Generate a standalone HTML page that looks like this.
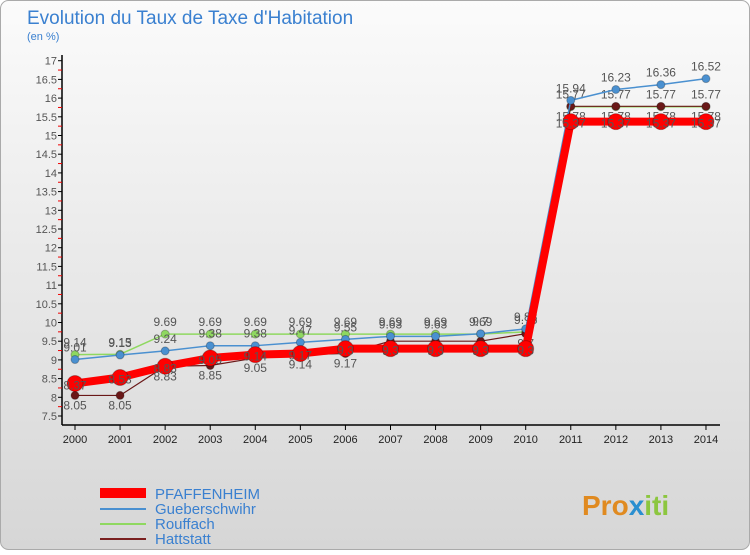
<!DOCTYPE html>
<html><head><meta charset="utf-8"><style>
body{margin:0;width:750px;height:550px;overflow:hidden;font-family:"Liberation Sans",sans-serif;}
</style></head><body>
<svg width="750" height="550" xmlns="http://www.w3.org/2000/svg" font-family="Liberation Sans, sans-serif">
<defs><linearGradient id="bg" x1="0" y1="0" x2="0" y2="1"><stop offset="0" stop-color="#fbfbfb"/><stop offset="1" stop-color="#d6d6d6"/></linearGradient></defs>
<rect x="0.5" y="0.5" width="749" height="549" rx="8" fill="url(#bg)" stroke="#aaa"/>
<text x="27" y="24" font-size="19" fill="#3a80d0">Evolution du Taux de Taxe d'Habitation</text>
<text x="27" y="40" font-size="11" fill="#3a80d0">(en %)</text>
<g id="axes"></g>
<g id="series"></g>
<g>
<rect x="100" y="488" width="46" height="10" fill="#f00"/><text x="155" y="499" font-size="15" fill="#3a80d0">PFAFFENHEIM</text>
<line x1="100" y1="509" x2="146" y2="509" stroke="#4a90d0" stroke-width="2"/><text x="155" y="514" font-size="15" fill="#3a80d0">Gueberschwihr</text>
<line x1="100" y1="524" x2="146" y2="524" stroke="#8fd860" stroke-width="2"/><text x="155" y="529" font-size="15" fill="#3a80d0">Rouffach</text>
<line x1="100" y1="539" x2="146" y2="539" stroke="#7a2020" stroke-width="2"/><text x="155" y="544" font-size="15" fill="#3a80d0">Hattstatt</text>
</g>
<text x="582" y="515" font-size="28" font-weight="bold" fill="#e08a20">Pro<tspan fill="#2a8fd0">x</tspan><tspan fill="#8cc63f">iti</tspan></text>
</svg>
<script>
const years=[2000,2001,2002,2003,2004,2005,2006,2007,2008,2009,2010,2011,2012,2013,2014];
const pfaff=[8.37,8.53,8.83,9.05,9.14,9.17,9.30,9.30,9.30,9.30,9.30,15.37,15.37,15.37,15.37];
const guebe=[9.01,9.13,9.24,9.38,9.38,9.47,9.55,9.63,9.63,9.70,9.83,15.94,16.23,16.36,16.52];
const rouff=[9.14,9.15,9.69,9.69,9.69,9.69,9.69,9.69,9.69,9.69,9.75,15.77,15.77,15.77,15.77];
const hatts=[8.05,8.05,8.83,8.85,9.05,9.14,9.17,9.50,9.50,9.50,9.70,15.78,15.78,15.78,15.78];
const yTicks=[7.5,8,8.5,9,9.5,10,10.5,11,11.5,12,12.5,13,13.5,14,14.5,15,15.5,16,16.5,17];
const NS="http://www.w3.org/2000/svg";
const X=i=>75+i*45.07, Y=v=>416-(v-7.5)*37.4;
function mk(t,a,p){const e=document.createElementNS(NS,t);for(const k in a)e.setAttribute(k,a[k]);p.appendChild(e);return e;}
const ax=document.getElementById('axes');
const yl=mk('line',{x1:62,y1:55,x2:62,y2:425,stroke:'#000','stroke-width':1.5},ax);


const xl=mk('line',{x1:62,y1:425,x2:720,y2:425,stroke:'#000','stroke-width':1.5},ax);


yTicks.forEach(v=>{
  mk('line',{x1:58,x2:62,y1:Y(v),y2:Y(v),stroke:'#000'},ax);
  if(v<17) mk('line',{x1:58,x2:62,y1:Y(v+0.25),y2:Y(v+0.25),stroke:'#e00'},ax);
  const t=mk('text',{x:57,y:Y(v)+4,'font-size':11,'text-anchor':'end',fill:'#555'},ax);
  
  
  t.textContent=String(v);
});
years.forEach((y,i)=>{
  mk('line',{x1:X(i),x2:X(i),y1:425,y2:430,stroke:'#000'},ax);
  const t=mk('text',{x:X(i),y:443,'font-size':11,'text-anchor':'middle',fill:'#222'},ax);
  
  
  t.textContent=String(y);
});
const sg=document.getElementById('series');
function draw(vals,col,w,r,name,lblOff){
  const g=mk('g',{},sg);
  
  
  mk('polyline',{points:vals.map((v,i)=>X(i)+','+Y(v)).join(' '),fill:'none',stroke:col,'stroke-width':w,'stroke-linejoin':'round'},g);
  vals.forEach((v,i)=>{
    const c=mk('circle',{cx:X(i),cy:Y(v),r:r,fill:col,stroke:'rgba(0,0,0,0.25)'},g);
    
    
    const t=mk('text',{x:X(i),y:Y(v)+lblOff,'font-size':12,'text-anchor':'middle',fill:'#555'},g);
    t.textContent=v.toFixed(2).replace(/0$/,'').replace(/\.0?$/,'');
  });
}
draw(rouff,'#8fd860',1.5,4,'rouffach-series',-8);
draw(hatts,'#6a1818',1.2,4,'hattstatt-series',14);
draw(guebe,'#4a90d0',1.5,4,'gueberschwihr-series',-8);
draw(pfaff,'#f00',8,8,'pfaffenheim-series',6);
</script>
</body></html>
